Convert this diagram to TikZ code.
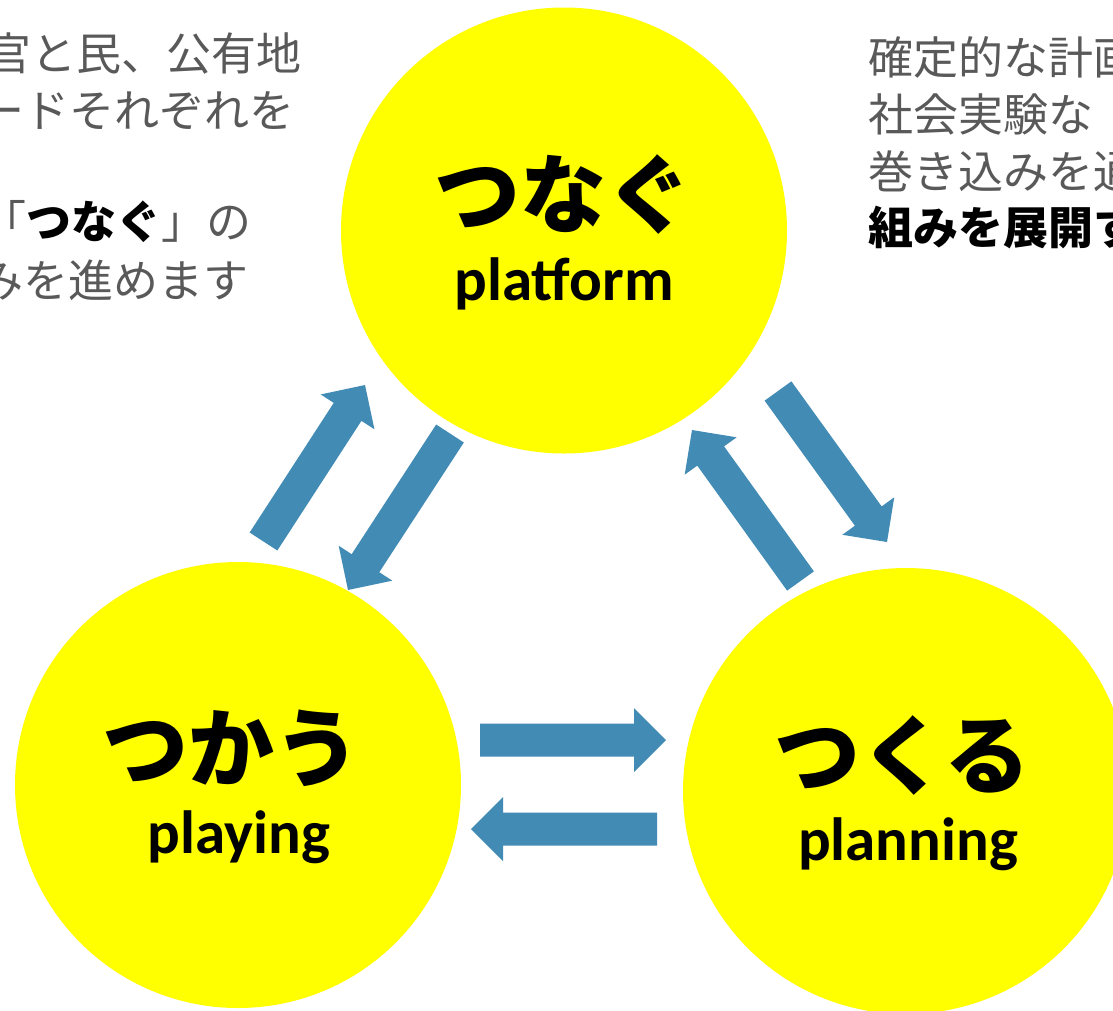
\documentclass[tikz,border=0pt]{standalone}
\usepackage{fontspec}
\setmainfont{Carlito}
\newfontfamily\jp{Noto Sans CJK JP}
\usetikzlibrary{calc}
\definecolor{circY}{RGB}{255,255,0}
\definecolor{arrB}{RGB}{65,139,180}
\definecolor{txtG}{RGB}{89,89,89}
\newcommand\blkarrow[2]{%
  \path ($(#2)!32pt!(#1)$) coordinate (hb);
  \fill[arrB] ($(#1)!16.5pt!90:(#2)$) -- ($(hb)!16.5pt!90:(#2)$) -- ($(hb)!32pt!90:(#2)$) -- (#2)
    -- ($(hb)!32pt!-90:(#2)$) -- ($(hb)!16.5pt!-90:(#2)$) -- ($(#1)!16.5pt!-90:(#2)$) -- cycle;}
\begin{document}
\begin{tikzpicture}[x=1pt,y=-1pt,
  circ/.style={circle, fill=circY, minimum size=446pt, inner sep=0pt},
  bigjp/.style={font=\jp\bfseries\fontsize{86}{90}\selectfont, inner sep=0pt, anchor=center},
  en/.style={font=\bfseries\fontsize{61}{66}\selectfont, inner sep=0pt, anchor=base},
  side/.style={font=\jp\fontsize{45}{50}\selectfont, text=txtG, inner sep=0pt}]
\useasboundingbox (0,0) rectangle (1113,1010);
\clip (0,0) rectangle (1113,1010);

% circles
\node[circ] (plat) at (564,230.5) {};
\node[circ] (play) at (238,785) {};
\node[circ] (plan) at (906,791) {};

% labels
\node[bigjp] (platjp) at (563.5,194.5) {つなぐ};
\node[en] (platen) at (564,300) {platform};
\node[bigjp] (playjp) at (231,748.5) {つかう};
\node[en] (playen) at (239,853) {playing};
\node[bigjp] (planjp) at (902.5,755) {つくる};
\node[en] (planen) at (908,860) {planning};

% arrow end points
\coordinate (a1s) at (263.5,541.5); \coordinate (a1e) at (365,385);
\coordinate (a2s) at (450,433.5);   \coordinate (a2e) at (348,590);
\coordinate (a3s) at (778,391);     \coordinate (a3e) at (887,542);
\coordinate (a4s) at (800.5,581);   \coordinate (a4e) at (692,430);
\coordinate (a5s) at (480,740);     \coordinate (a5e) at (666,740);
\coordinate (a6s) at (657,829);     \coordinate (a6e) at (471,829);
\blkarrow{a1s}{a1e}
\blkarrow{a2s}{a2e}
\blkarrow{a3s}{a3e}
\blkarrow{a4s}{a4e}
\blkarrow{a5s}{a5e}
\blkarrow{a6s}{a6e}

% left text
\node[side, anchor=base east] (l1) at (302,70) {官と民、公有地};
\node[side, anchor=base east] (l2) at (295,127) {ードそれぞれを};
\node[side, anchor=base east] (l4) at (252,238) {「{\bfseries\color{black}つなぐ}」の};
\node[side, anchor=base east] (l5) at (249,297) {みを進めます};

% right text
\node[side, anchor=base west] (r1) at (868,74) {確定的な計画};
\node[side, anchor=base west] (r2) at (868,131) {社会実験な};
\node[side, anchor=base west] (r3) at (868,188) {巻き込みを通};
\node[side, anchor=base west] (r4) at (868,244) {\bfseries\color{black}組みを展開す};
\end{tikzpicture}
\end{document}
